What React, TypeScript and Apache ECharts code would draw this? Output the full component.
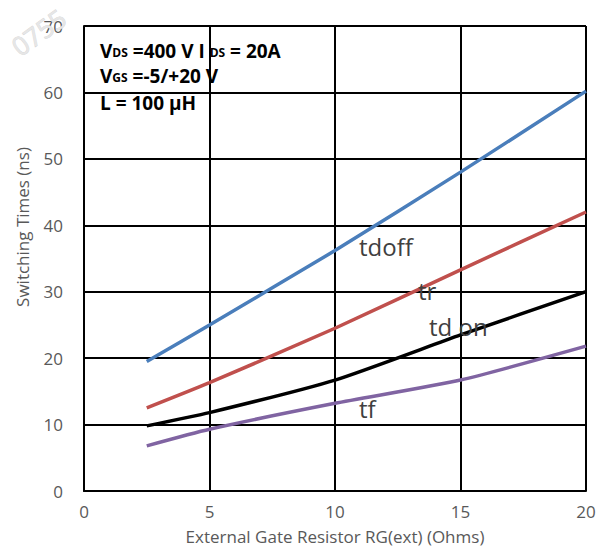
import React, { useEffect, useRef } from "react";
import * as echarts from "echarts";

const xTicks = [0, 5, 10, 15, 20];
const rg = [2.5, 5, 10, 15, 20];
const tdoff = [19.5, 25, 36.2, 48, 60.2];
const tr = [12.5, 16.3, 24.5, 33.3, 42];
const tdon = [9.8, 11.8, 16.7, 23.5, 30];
const tf = [6.8, 9.3, 13.2, 16.7, 21.8];

const seriesNames = ["tdoff", "tr", "td on", "tf"];
const seriesData = [tdoff, tr, tdon, tf];
const colors = ["#4a7ebb", "#c0504d", "#000000", "#8064a2"];

export default function App() {
  const ref = useRef<HTMLDivElement>(null);
  useEffect(() => {
    const chart = echarts.init(ref.current!, null, { renderer: "svg" });
    const font = "'Open Sans', 'Liberation Sans', sans-serif";
    const rich = { s: { fontSize: 12, fontWeight: "bold", fill: "#000", fontFamily: font, padding: [4, 0, 0, 0] } };
    chart.setOption({
      animation: false,
      backgroundColor: "#ffffff",
      grid: { left: 84, right: 27, top: 26, bottom: 60, show: false },
      xAxis: {
        type: "value",
        min: 0,
        max: 20,
        interval: 5,
        name: "External Gate Resistor RG(ext) (Ohms)",
        nameLocation: "middle",
        nameGap: 37,
        nameTextStyle: { color: "#595959", fontSize: 17, fontFamily: font },
        axisLine: { show: true, lineStyle: { color: "#000", width: 2 } },
        axisTick: { show: false },
        axisLabel: { color: "#595959", fontSize: 17, fontFamily: font, margin: 12 },
        splitLine: { show: true, lineStyle: { color: "#000", width: 2 } },
      },
      yAxis: {
        type: "value",
        min: 0,
        max: 70,
        interval: 10,
        axisLine: { show: true, lineStyle: { color: "#000", width: 2 } },
        axisTick: { show: false },
        axisLabel: { color: "#595959", fontSize: 17, fontFamily: font, margin: 21 },
        splitLine: { show: true, lineStyle: { color: "#000", width: 2 } },
      },
      series: seriesNames.map((n, i) => ({
        name: n,
        type: "line",
        data: rg.map((x, j) => [x, seriesData[i][j]]),
        showSymbol: false,
        smooth: 0.2,
        lineStyle: { color: colors[i], width: 3.5 },
        z: 5,
      })),
      graphic: [
        {
          type: "line",
          shape: { x1: 586, y1: 26, x2: 586, y2: 491 },
          style: { stroke: "#000", lineWidth: 2 },
          z: 4,
        },
        {
          type: "line",
          shape: { x1: 84, y1: 26, x2: 586, y2: 26 },
          style: { stroke: "#000", lineWidth: 2 },
          z: 4,
        },
        {
          type: "text",
          x: 22,
          y: 60,
          rotation: 0.62,
          style: {
            text: "0755",
            fill: "#e6e6e6",
            stroke: "#d0d0d0",
            lineWidth: 0.6,
            font: `26px ${font}`,
            verticalAlign: "bottom",
          },
          z: 1,
        },
        {
          type: "text",
          x: 22,
          y: 227,
          rotation: Math.PI / 2,
          style: {
            text: "Switching Times (ns)",
            fill: "#595959",
            font: `17px ${font}`,
            align: "center",
            verticalAlign: "middle",
          },
          z: 10,
        },
        {
          type: "text",
          x: 100,
          y: 41,
          style: { text: "V{s|DS} =400 V I {s|DS} = 20A", fill: "#000", font: `bold 19px ${font}`, rich },
          z: 10,
        },
        {
          type: "text",
          x: 100,
          y: 66,
          style: { text: "V{s|GS} =-5/+20 V", fill: "#000", font: `bold 19px ${font}`, rich },
          z: 10,
        },
        {
          type: "text",
          x: 100,
          y: 93,
          style: { text: "L = 100 µH", fill: "#000", font: `bold 19px ${font}` },
          z: 10,
        },
        { type: "text", x: 359, y: 234, style: { text: "tdoff", fill: "#404040", font: `24px ${font}` }, z: 10 },
        { type: "text", x: 418, y: 278, style: { text: "tr", fill: "#404040", font: `24px ${font}` }, z: 10 },
        { type: "text", x: 429, y: 314, style: { text: "td on", fill: "#404040", font: `24px ${font}` }, z: 10 },
        { type: "text", x: 359, y: 396, style: { text: "tf", fill: "#404040", font: `24px ${font}` }, z: 10 },
      ],
    });
    return () => chart.dispose();
  }, []);
  return (
    <div
      ref={ref}
      style={{ position: "fixed", left: 0, top: 0, width: 613, height: 551 }}
    />
  );
}
